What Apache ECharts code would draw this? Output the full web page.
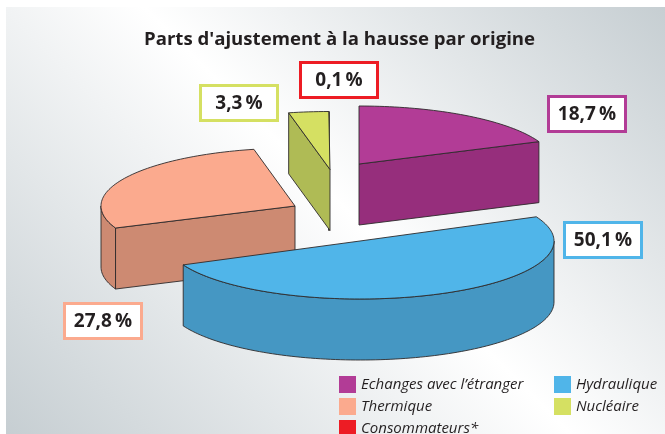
<!DOCTYPE html>
<html>
<head>
<meta charset="utf-8">
<style>html,body{margin:0;padding:0;background:#fff}#c{width:665px;height:434px}</style>
<script src="https://cdn.jsdelivr.net/npm/echarts@6/dist/echarts.min.js"></script>
</head>
<body>
<div id="c"></div>
<script>
// Data (pie order, clockwise from the top)
var names = ['Echanges avec l\u2019\u00e9tranger', 'Hydraulique', 'Thermique', 'Nucl\u00e9aire', 'Consommateurs*'];
var shares = [18.7, 50.1, 27.8, 3.3, 0.1];
var titleText = "Parts d'ajustement \u00e0 la hausse par origine";

// Styling
var topColors = ['#b23c96', '#50b5e9', '#fbaa8e', '#d5e062', '#ed1c24'];
var sideColors = ['#962e7c', '#4597c3', '#cd8a72', '#afbb55', '#c5171e'];
// Layout: slice apex (exploded pie), per-slice ellipse width and rotation, label box top-left
var apexX = [359, 360, 295, 330, 329];
var apexY = [164, 241, 206, 169.5, 169.5];
var radiusX = [195, 194, 194, 195, 195];
var spin = [0, -2, 0, 0, 0];
var boxX = [547, 563, 63, 199, 299];
var boxY = [95, 221, 302, 84, 61];
var drawOrder = [2, 4, 3, 0, 1];
var RY = 58, DEPTH = 61, BOXW = 80, BOXH = 38, OUTLINE = '#2e2a2b';
var FONT = '"Open Sans", "Noto Sans", sans-serif';

var total = shares.reduce(function (a, b) { return a + b; }, 0);
var starts = [];
shares.reduce(function (acc, v, i) { starts[i] = acc; return acc + v; }, 0);

function pt(i, deg, dy) {
  var r = deg * Math.PI / 180;
  return [apexX[i] + radiusX[i] * Math.sin(r), apexY[i] - RY * Math.cos(r) + (dy || 0)];
}
function arc(i, a, b, dy) {
  var out = [], n = Math.max(2, Math.ceil(Math.abs(b - a) / 1.5));
  for (var k = 0; k <= n; k++) out.push(pt(i, a + (b - a) * k / n, dy));
  return out;
}
function fmt(v) { return v.toFixed(1).replace('.', ',') + '\u2009%'; }

function makeRender(i) {
  return function (params, api) {
    var v = api.value(0);
    var s = starts[i] / total * 360 + spin[i], e = s + v / total * 360;
    var apex = [apexX[i], apexY[i]], kids = [];
    var line = { stroke: OUTLINE, lineWidth: 0.9, lineJoin: 'round' };
    function poly(points, fill) {
      kids.push({ type: 'polygon', shape: { points: points },
        style: Object.assign({ fill: fill }, line) });
    }
    // outer rim (front half only)
    var r0 = Math.max(s, 90), r1 = Math.min(e, 270);
    if (r1 > r0) poly(arc(i, r0, r1, 0).concat(arc(i, r1, r0, DEPTH)), sideColors[i]);
    // radial walls facing the viewer
    [[s, Math.sin(s * Math.PI / 180) < 0], [e, Math.sin(e * Math.PI / 180) > 0]].forEach(function (w) {
      if (!w[1]) return;
      var p = pt(i, w[0], 0);
      poly([apex, p, [p[0], p[1] + DEPTH], [apex[0], apex[1] + DEPTH]], sideColors[i]);
    });
    // top face
    poly([apex].concat(arc(i, s, e, 0)), topColors[i]);
    // value label box
    kids.push({ type: 'rect', z2: 20,
      shape: { x: boxX[i] + 1.5, y: boxY[i] + 1.5, width: BOXW - 3, height: BOXH - 3 },
      style: { fill: '#fff', stroke: topColors[i], lineWidth: 3 } });
    kids.push({ type: 'text', z2: 21,
      style: { text: fmt(v), x: boxX[i] + BOXW / 2, y: boxY[i] + BOXH / 2 + 0.5,
        align: 'center', verticalAlign: 'middle', fill: '#231f20',
        font: 'bold 19px ' + FONT } });
    return { type: 'group', children: kids };
  };
}

var chart = echarts.init(document.getElementById('c'), null, { renderer: 'canvas' });
var legendText = { fontFamily: FONT, fontStyle: 'italic', fontSize: 15, color: '#231f20' };
function legendAt(items, left, top) {
  return { data: items, orient: 'vertical', left: left, top: top,
    itemWidth: 17, itemHeight: 17, itemGap: 5, icon: 'rect', selectedMode: false,
    padding: 0, textStyle: legendText };
}
chart.setOption({
  animation: false,
  title: { text: titleText, left: 144, top: 30, padding: 0,
    textStyle: { fontFamily: FONT, fontWeight: 'bold', fontSize: 18.6, color: '#231f20' } },
  graphic: [{ type: 'rect', silent: true, z: -10,
    shape: { x: 6, y: 7, width: 659, height: 427 },
    style: { fill: new echarts.graphic.LinearGradient(121, 549, 664, 6, [
      { offset: 0, color: '#c6ced2' }, { offset: 0.52, color: '#ffffff' }, { offset: 1, color: '#c6ced2' }
    ], true) } }],
  legend: [
    legendAt([names[0], names[2]], 339, 376),
    legendAt([names[4]], 339, 420),
    legendAt([names[1], names[3]], 554, 376)
  ],
  series: drawOrder.map(function (i) {
    return { type: 'custom', name: names[i], coordinateSystem: 'none', silent: true,
      itemStyle: { color: topColors[i] }, renderItem: makeRender(i),
      data: [[shares[i]]] };
  })
});
</script>
</body>
</html>
